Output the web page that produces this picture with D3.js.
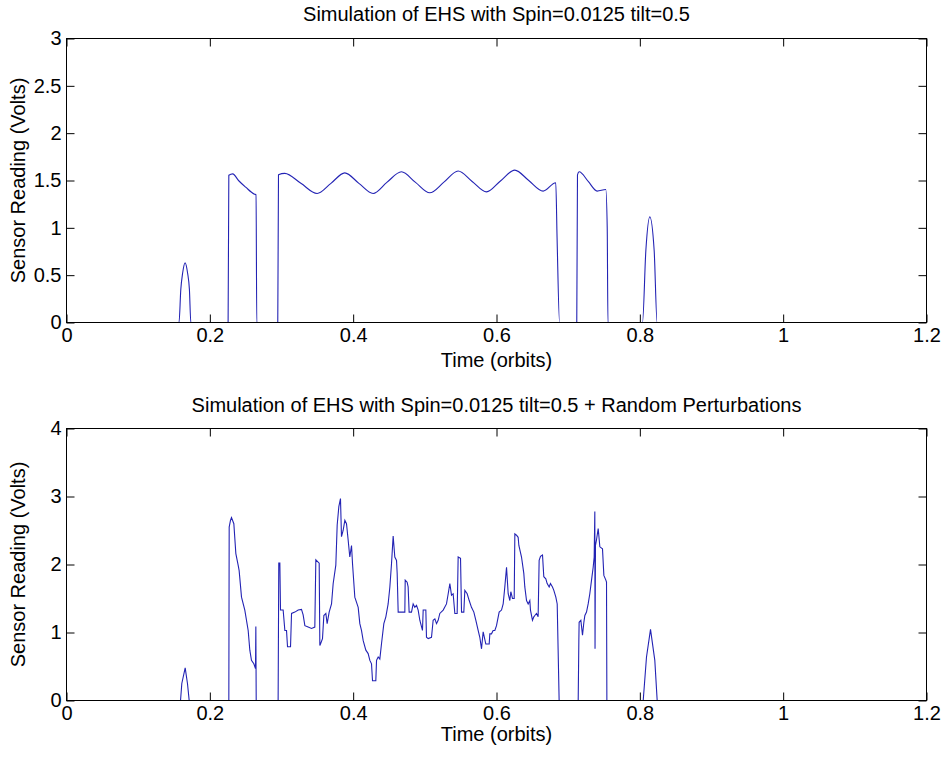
<!DOCTYPE html>
<html><head><meta charset="utf-8">
<script src="https://cdn.jsdelivr.net/npm/d3@7"></script>
<style>body{margin:0;background:#fff} text{font-family:Arial,"Liberation Sans",sans-serif;fill:#000}</style>
</head><body><svg id="c" width="943" height="771"></svg>
<script>
const xTicks = [0, 0.2, 0.4, 0.6, 0.8, 1, 1.2];
const xTickLabels = ["0", "0.2", "0.4", "0.6", "0.8", "1", "1.2"];
const topYTicks = [0, 0.5, 1, 1.5, 2, 2.5, 3];
const topYTickLabels = ["0", "0.5", "1", "1.5", "2", "2.5", "3"];
const botYTicks = [0, 1, 2, 3, 4];
const botYTickLabels = ["0", "1", "2", "3", "4"];
const topTitle = "Simulation of EHS with Spin=0.0125 tilt=0.5";
const botTitle = "Simulation of EHS with Spin=0.0125 tilt=0.5 + Random Perturbations";
const xLabel = "Time (orbits)";
const yLabel = "Sensor Reading (Volts)";

const topTime = [0, 0.157, 0.1595, 0.162, 0.1655, 0.169, 0.1715, 0.1735, 0.2255, 0.2265, 0.232, 0.240, 0.250, 0.2625, 0.2645, 0.2655,
  0.2948, 0.2958, 0.3046, 0.327, 0.3497, 0.369, 0.3883, 0.408, 0.4278, 0.447, 0.4674, 0.487, 0.5069, 0.527, 0.5464, 0.566, 0.586,
  0.6055, 0.6255, 0.645, 0.665, 0.6827, 0.6845, 0.688, 0.712, 0.713, 0.7153, 0.728, 0.7404, 0.7525, 0.7545, 0.7555,
  0.8037, 0.8084, 0.8139, 0.8200, 0.8241, 1.0];
const topVolts = [0, 0, 0.35, 0.52, 0.63, 0.52, 0.35, 0, 0, 1.555, 1.57, 1.50, 1.43, 1.355, 1.35, 0,
  0, 1.56, 1.575, 1.47, 1.363, 1.47, 1.581, 1.47, 1.363, 1.48, 1.592, 1.48, 1.37, 1.485, 1.60, 1.49, 1.38,
  1.495, 1.61, 1.50, 1.388, 1.476, 0.9, 0, 0, 1.56, 1.592, 1.49, 1.388, 1.405, 1.0, 0,
  0, 0.76, 1.116, 0.76, 0, 0];

const botTime = [0, 0.1591, 0.1609, 0.1656, 0.1688, 0.1712,
  0.2265, 0.2270, 0.2288, 0.2302, 0.2335, 0.2363, 0.2395, 0.2409, 0.2442, 0.2488, 0.2535, 0.2558, 0.2581, 0.2614, 0.2637, 0.2642, 0.2647,
  0.2953, 0.2962, 0.2977, 0.2986, 0.3023, 0.3047, 0.3070, 0.3084, 0.3126, 0.3140, 0.3186, 0.3233, 0.3279, 0.3302, 0.3326, 0.3372, 0.3419, 0.3465,
  0.3479, 0.3526, 0.3535, 0.3544, 0.3572, 0.3591, 0.3619, 0.3637, 0.3665, 0.3698, 0.3721, 0.3758, 0.3777, 0.3800, 0.3823, 0.3837, 0.3860,
  0.3884, 0.3907, 0.3930, 0.3953, 0.3977, 0.3991, 0.4023, 0.4070, 0.4093, 0.4116, 0.4140, 0.4177, 0.4209, 0.4233, 0.4256, 0.4270, 0.4316,
  0.4326, 0.4349, 0.4372, 0.4395, 0.4428, 0.4456, 0.4488, 0.4512, 0.4535, 0.4558, 0.4581, 0.4605, 0.4614, 0.4628, 0.4721, 0.4726, 0.4753,
  0.4767, 0.4781, 0.4814, 0.4837, 0.4860, 0.4884, 0.4907, 0.4930, 0.4967, 0.4977, 0.5014, 0.5023, 0.5047, 0.5093, 0.5116, 0.5140, 0.5163,
  0.5186, 0.5209, 0.5256, 0.5302, 0.5326, 0.5349, 0.5372, 0.5395, 0.5419, 0.5451, 0.5465, 0.5498, 0.5512, 0.5544, 0.5558, 0.5591, 0.5619,
  0.5651, 0.5684, 0.5712, 0.5744, 0.5767, 0.5791, 0.5814, 0.5851, 0.5898, 0.5907, 0.5930, 0.5953, 0.5977, 0.6000, 0.6037, 0.6070, 0.6093,
  0.6116, 0.6140, 0.6163, 0.6186, 0.6200, 0.6223, 0.6247, 0.6256, 0.6279, 0.6302, 0.6312, 0.6349, 0.6381, 0.6395, 0.6419, 0.6442, 0.6465,
  0.6474, 0.6502, 0.6521, 0.6535, 0.6558, 0.6581, 0.6595, 0.6614, 0.6642, 0.6660, 0.6688, 0.6707, 0.6735, 0.6753, 0.6781, 0.6800, 0.6828,
  0.6847, 0.6860, 0.6874,
  0.7140, 0.7149, 0.7153, 0.7177, 0.7200, 0.7219, 0.7233, 0.7256, 0.7279, 0.7302, 0.7326, 0.7349, 0.7363, 0.7372, 0.7375, 0.7381, 0.7395,
  0.7419, 0.7442, 0.7479, 0.7498, 0.7526, 0.7535, 0.7540,
  0.8047, 0.8093, 0.8149, 0.8209, 0.8242, 1.0];
const botVolts = [0, 0, 0.25, 0.48, 0.25, 0,
  0, 2.55, 2.65, 2.69, 2.60, 2.16, 1.99, 1.91, 1.52, 1.33, 1.03, 0.74, 0.59, 0.54, 0.47, 1.09, 0,
  0, 2.02, 2.02, 1.33, 1.33, 1.03, 1.03, 0.79, 0.79, 1.28, 1.30, 1.33, 1.34, 1.26, 1.10, 1.08, 1.06, 1.08,
  2.07, 2.02, 0.81, 0.83, 0.91, 1.25, 1.28, 1.13, 1.30, 1.42, 1.72, 1.99, 2.58, 2.85, 2.97, 2.41, 2.50,
  2.65, 2.60, 2.36, 2.11, 2.28, 2.01, 1.52, 1.37, 1.13, 1.03, 0.88, 0.74, 0.69, 0.59, 0.54, 0.29, 0.29,
  0.59, 0.64, 0.61, 0.83, 1.13, 1.23, 1.42, 1.67, 2.01, 2.42, 2.11, 2.06, 1.87, 1.30, 1.30, 1.77, 1.74,
  1.67, 1.30, 1.30, 1.42, 1.37, 1.40, 1.33, 1.18, 1.03, 1.33, 1.33, 0.93, 0.91, 0.93, 1.18, 1.20, 1.13,
  1.18, 1.28, 1.33, 1.42, 1.57, 1.72, 1.55, 1.57, 1.28, 1.28, 2.11, 2.09, 1.30, 1.30, 1.62, 1.57, 1.47,
  1.37, 1.30, 1.18, 1.03, 0.93, 0.76, 1.01, 0.83, 0.83, 0.98, 0.98, 1.03, 1.03, 1.10, 1.30, 1.33, 1.42,
  1.67, 1.96, 1.57, 1.47, 1.60, 1.50, 1.50, 2.45, 2.43, 2.40, 2.28, 2.11, 1.87, 1.67, 1.47, 1.42, 1.47,
  1.33, 1.18, 1.23, 1.25, 1.28, 1.23, 2.06, 2.12, 2.14, 1.82, 1.79, 1.72, 1.67, 1.72, 1.67, 1.62, 1.52,
  1.42, 0.74, 0,
  0, 0.88, 1.15, 1.18, 0.96, 1.15, 1.25, 1.30, 1.42, 1.57, 1.77, 1.96, 2.11, 2.78, 0.76, 2.28, 2.36,
  2.53, 2.26, 2.23, 1.84, 1.77, 1.74, 0,
  0, 0.64, 1.045, 0.59, 0, 0];

const svg = d3.select("#c");
const x = d3.scaleLinear().domain([0, 1.2]).range([66.5, 926.5]);
const FS = 20;

function panel(id, top, bottom, yMax, yTicks, yTickLabels, times, volts, title, curve, titleGap, xlabGap) {
  const y = d3.scaleLinear().domain([0, yMax]).range([bottom, top]);
  const g = svg.append("g");
  g.append("clipPath").attr("id", id).append("rect")
    .attr("x", 66.5).attr("y", top).attr("width", 860).attr("height", bottom - top);
  const pts = times.map((t, i) => [t, volts[i]]);
  g.append("path").datum(pts)
    .attr("clip-path", `url(#${id})`)
    .attr("fill", "none").attr("stroke", "#2323b4").attr("stroke-width", 1.1)
    .attr("d", d3.line().x(d => x(d[0])).y(d => y(d[1])).curve(curve));

  const fmtX = (d, i) => xTickLabels[i];
  const fmtY = (d, i) => yTickLabels[i];
  g.append("g").attr("transform", `translate(0,${bottom})`)
    .call(d3.axisBottom(x).tickValues(xTicks).tickFormat(fmtX).tickSizeInner(-8).tickSizeOuter(0).tickPadding(5));
  g.append("g").attr("transform", `translate(0,${top})`)
    .call(d3.axisTop(x).tickValues(xTicks).tickFormat("").tickSizeInner(-8).tickSizeOuter(0));
  g.append("g").attr("transform", `translate(66.5,0)`)
    .call(d3.axisLeft(y).tickValues(yTicks).tickFormat(fmtY).tickSizeInner(-8).tickSizeOuter(0).tickPadding(5));
  g.append("g").attr("transform", `translate(926.5,0)`)
    .call(d3.axisRight(y).tickValues(yTicks).tickFormat("").tickSizeInner(-8).tickSizeOuter(0));
  g.selectAll(".domain").remove();
  g.selectAll(".tick line").attr("stroke", "#000");
  g.selectAll(".tick text").attr("font-size", FS).attr("font-family", "Arial, 'Liberation Sans', sans-serif");
  g.append("rect").attr("x", 66.5).attr("y", top).attr("width", 860).attr("height", bottom - top)
    .attr("fill", "none").attr("stroke", "#000").attr("stroke-width", 1);

  const cx = (66.5 + 926.5) / 2;
  g.append("text").attr("x", cx).attr("y", top - titleGap).attr("text-anchor", "middle")
    .attr("font-size", FS).text(title);
  g.append("text").attr("x", cx).attr("y", bottom + xlabGap).attr("text-anchor", "middle")
    .attr("font-size", FS).text(xLabel);
  g.append("text").attr("transform", `translate(25,${(top + bottom) / 2}) rotate(-90)`)
    .attr("text-anchor", "middle").attr("font-size", FS).text(yLabel);
}

panel("clipTop", 38.5, 322.5, 3, topYTicks, topYTickLabels, topTime, topVolts, topTitle, d3.curveMonotoneX, 18, 44);
panel("clipBot", 428.5, 700.5, 4, botYTicks, botYTickLabels, botTime, botVolts, botTitle, d3.curveLinear, 17, 40);
</script></body></html>
